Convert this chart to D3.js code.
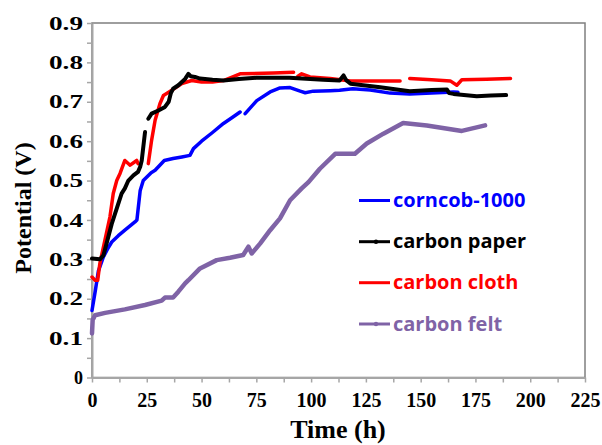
<!DOCTYPE html>
<html>
<head>
<meta charset="utf-8">
<script src="https://cdn.jsdelivr.net/npm/d3@7"></script>
<style>
  body { margin: 0; background: #fff; }
  svg { display: block; }
</style>
</head>
<body>
<div id="chart"></div>
<script>
// series, time in h, potential in V (null = gap in the trace)
let corncobT = [0, 1.5, 2.9, 5.2, 7, 9, 12, 15, 19.6, 20.5, 22, 23.4, 27, 28.8, 33, 37, 41, 44.7, 46.3, 50, 55, 60, 64, 67.6, 68.8, 69.9, 75.2, 81.3, 85.8, 90.4, 95, 97.3, 101, 108.7, 113, 119, 127, 136, 145, 155, 165, 167];
let corncobV = [0.17, 0.22, 0.27, 0.306, 0.325, 0.344, 0.36, 0.374, 0.395, 0.40, 0.475, 0.50, 0.52, 0.526, 0.551, 0.556, 0.56, 0.564, 0.581, 0.60, 0.622, 0.645, 0.66, 0.674, null, 0.67, 0.703, 0.725, 0.735, 0.736, 0.727, 0.723, 0.727, 0.728, 0.729, 0.733, 0.73, 0.722, 0.72, 0.722, 0.725, 0.724];

let paperT = [0, 3.6, 5.2, 9, 13.5, 15, 16.6, 18.9, 21, 22, 22.7, 24.2, 25, 25.7, 27.2, 30.3, 33.3, 35, 36, 37, 39.4, 42.5, 44, 45, 47, 49.3, 55, 60, 67, 75, 90, 105.5, 113, 114.8, 116, 118, 131.5, 145, 155, 162, 163, 165, 175.6, 182, 189];
let paperV = [0.302, 0.30, 0.31, 0.39, 0.467, 0.48, 0.50, 0.513, 0.522, 0.535, 0.551, 0.623, null, 0.657, 0.67, 0.678, 0.687, 0.70, 0.722, 0.733, 0.742, 0.758, 0.771, 0.765, 0.763, 0.759, 0.756, 0.754, 0.758, 0.761, 0.761, 0.756, 0.754, 0.767, 0.755, 0.746, 0.737, 0.727, 0.73, 0.731, 0.722, 0.72, 0.714, 0.716, 0.717];

let clothT = [0, 1.4, 2.6, 3.6, 5.9, 8.2, 9.7, 11.3, 12.8, 15, 17.4, 20.4, 21, 23, 25.7, 27.2, 28.8, 31, 32.6, 36.4, 41, 45.5, 50, 55, 60, 67.6, 82.8, 92, 93, 94, 95.7, 99.5, 108.7, 118, 130, 140.6, 142.5, 145, 155, 163.5, 166.5, 168.8, 180, 191];
let clothV = [0.255, 0.247, 0.247, 0.29, 0.349, 0.408, 0.467, 0.50, 0.518, 0.551, 0.539, 0.551, 0.543, null, 0.543, 0.602, 0.653, 0.695, 0.716, 0.729, 0.746, 0.754, 0.75, 0.75, 0.754, 0.771, 0.773, 0.775, null, 0.765, 0.771, 0.763, 0.759, 0.753, 0.753, 0.753, null, 0.759, 0.756, 0.753, 0.742, 0.756, 0.757, 0.759];

let feltT = [0, 0.3, 1.4, 6, 15, 24.2, 31.8, 33.3, 37, 39.4, 42.5, 44, 49.3, 56.9, 63, 69, 71.4, 72.9, 76.7, 81.3, 85.8, 90.4, 95.7, 98.8, 104, 111, 120, 125.4, 133, 142, 152.8, 168.8, 179.4];
let feltV = [0.112, 0.146, 0.158, 0.164, 0.173, 0.184, 0.195, 0.203, 0.203, 0.218, 0.239, 0.247, 0.277, 0.298, 0.304, 0.311, 0.332, 0.315, 0.34, 0.374, 0.404, 0.45, 0.48, 0.496, 0.53, 0.568, 0.568, 0.594, 0.619, 0.646, 0.64, 0.626, 0.64];

let seriesNames = ['corncob-1000', 'carbon paper', 'carbon cloth', 'carbon felt'];
let xTicks = [0, 25, 50, 75, 100, 125, 150, 175, 200, 225];
let yTicks = [0, 0.1, 0.2, 0.3, 0.4, 0.5, 0.6, 0.7, 0.8, 0.9];

let width = 602;
let height = 445;
let plot = { left: 92, right: 585, top: 23, bottom: 377.5 };

let svg = d3.select('#chart')
            .append('svg')
            .attr('width', width)
            .attr('height', height);

let x = d3.scaleLinear().domain([0, 225]).range([plot.left, plot.right]);
let y = d3.scaleLinear().domain([0, 0.9]).range([plot.bottom, plot.top]);

// frame of the plot area
svg.append('rect')
   .attr('x', plot.left)
   .attr('y', plot.top)
   .attr('width', plot.right - plot.left)
   .attr('height', plot.bottom - plot.top)
   .attr('fill', 'none')
   .attr('stroke', '#7f7f7f')
   .attr('stroke-width', 1.5);

// minor + major ticks every 12.5 h / 0.05 V
let xAxis = d3.axisBottom(x)
              .tickValues(d3.range(0, 225.01, 12.5))
              .tickSize(5)
              .tickSizeOuter(0)
              .tickFormat(d => xTicks.includes(d) ? d : '');
let yAxis = d3.axisLeft(y)
              .tickValues(d3.range(0, 0.9001, 0.05).map(v => +v.toFixed(2)))
              .tickSize(5)
              .tickSizeOuter(0)
              .tickFormat(d => yTicks.includes(d) ? (d === 0 ? '0' : d.toFixed(1)) : '');

let gx = svg.append('g')
            .attr('transform', `translate(0, ${plot.bottom})`)
            .call(xAxis);
let gy = svg.append('g')
            .attr('transform', `translate(${plot.left}, 0)`)
            .call(yAxis);

[gx, gy].forEach(g => {
  g.select('.domain').attr('stroke', '#a6a6a6').attr('stroke-width', 2);
  g.selectAll('.tick line').attr('stroke', '#a6a6a6').attr('stroke-width', 1.5);
  g.selectAll('.tick text')
   .attr('fill', '#000')
   .style('font-family', '"Liberation Serif", "Times New Roman", serif')
   .style('font-weight', 'bold');
});

gx.selectAll('.tick text').style('font-size', '20px').attr('dy', '1.05em');
gy.selectAll('.tick text')
  .style('font-size', '18px')
  .attr('x', -9)
  .attr('dy', '0.34em')
  .each(function(d) {
    if (d !== 0 && yTicks.includes(d)) {
      d3.select(this).attr('textLength', 34).attr('lengthAdjust', 'spacingAndGlyphs');
    }
  });

// axis titles
svg.append('text')
   .attr('x', 338)
   .attr('y', 438)
   .attr('text-anchor', 'middle')
   .style('font-family', '"Liberation Serif", "Times New Roman", serif')
   .style('font-weight', 'bold')
   .style('font-size', '26px')
   .text('Time (h)');

svg.append('text')
   .attr('transform', 'translate(31, 208) rotate(-90)')
   .attr('text-anchor', 'middle')
   .style('font-family', '"Liberation Serif", "Times New Roman", serif')
   .style('font-weight', 'bold')
   .style('font-size', '24px')
   .text('Potential (V)');

let series = [
  { name: seriesNames[0], t: corncobT, v: corncobV, color: '#0000ff', w: 3.5 },
  { name: seriesNames[1], t: paperT, v: paperV, color: '#000000', w: 4 },
  { name: seriesNames[2], t: clothT, v: clothV, color: '#ff0000', w: 3.5 },
  { name: seriesNames[3], t: feltT, v: feltV, color: '#7f63a6', w: 4.5 },
];

let line = d3.line()
             .defined(d => d[1] != null)
             .x(d => x(d[0]))
             .y(d => y(d[1]));

// draw purple first, then blue, red, black on top as in the picture
[3, 0, 2, 1].forEach(i => {
  let s = series[i];
  svg.append('path')
     .datum(s.t.map((t, j) => [t, s.v[j]]))
     .attr('d', line)
     .attr('fill', 'none')
     .attr('stroke', s.color)
     .attr('stroke-width', s.w)
     .attr('stroke-linejoin', 'round')
     .attr('stroke-linecap', 'round');
});

// legend
let legendY = [200.5, 241.7, 282.7, 324];
let legend = svg.selectAll('.legend')
                .data(series)
                .enter().append('g')
                .attr('class', 'legend')
                .attr('transform', (d, i) => `translate(359, ${legendY[i]})`);

legend.append('line')
      .attr('x1', 0)
      .attr('x2', 31)
      .attr('stroke', d => d.color)
      .attr('stroke-width', 3);

legend.filter((d, i) => i === 1 || i === 3)
      .append('circle')
      .attr('cx', 17)
      .attr('r', 2.2)
      .attr('fill', d => d.color);

legend.append('text')
      .attr('x', 34)
      .attr('y', 6.5)
      .attr('fill', d => d.color)
      .style('font-family', '"Open Sans", sans-serif')
      .style('font-weight', 'bold')
      .style('font-size', '20px')
      .text(d => d.name);
</script>
</body>
</html>
